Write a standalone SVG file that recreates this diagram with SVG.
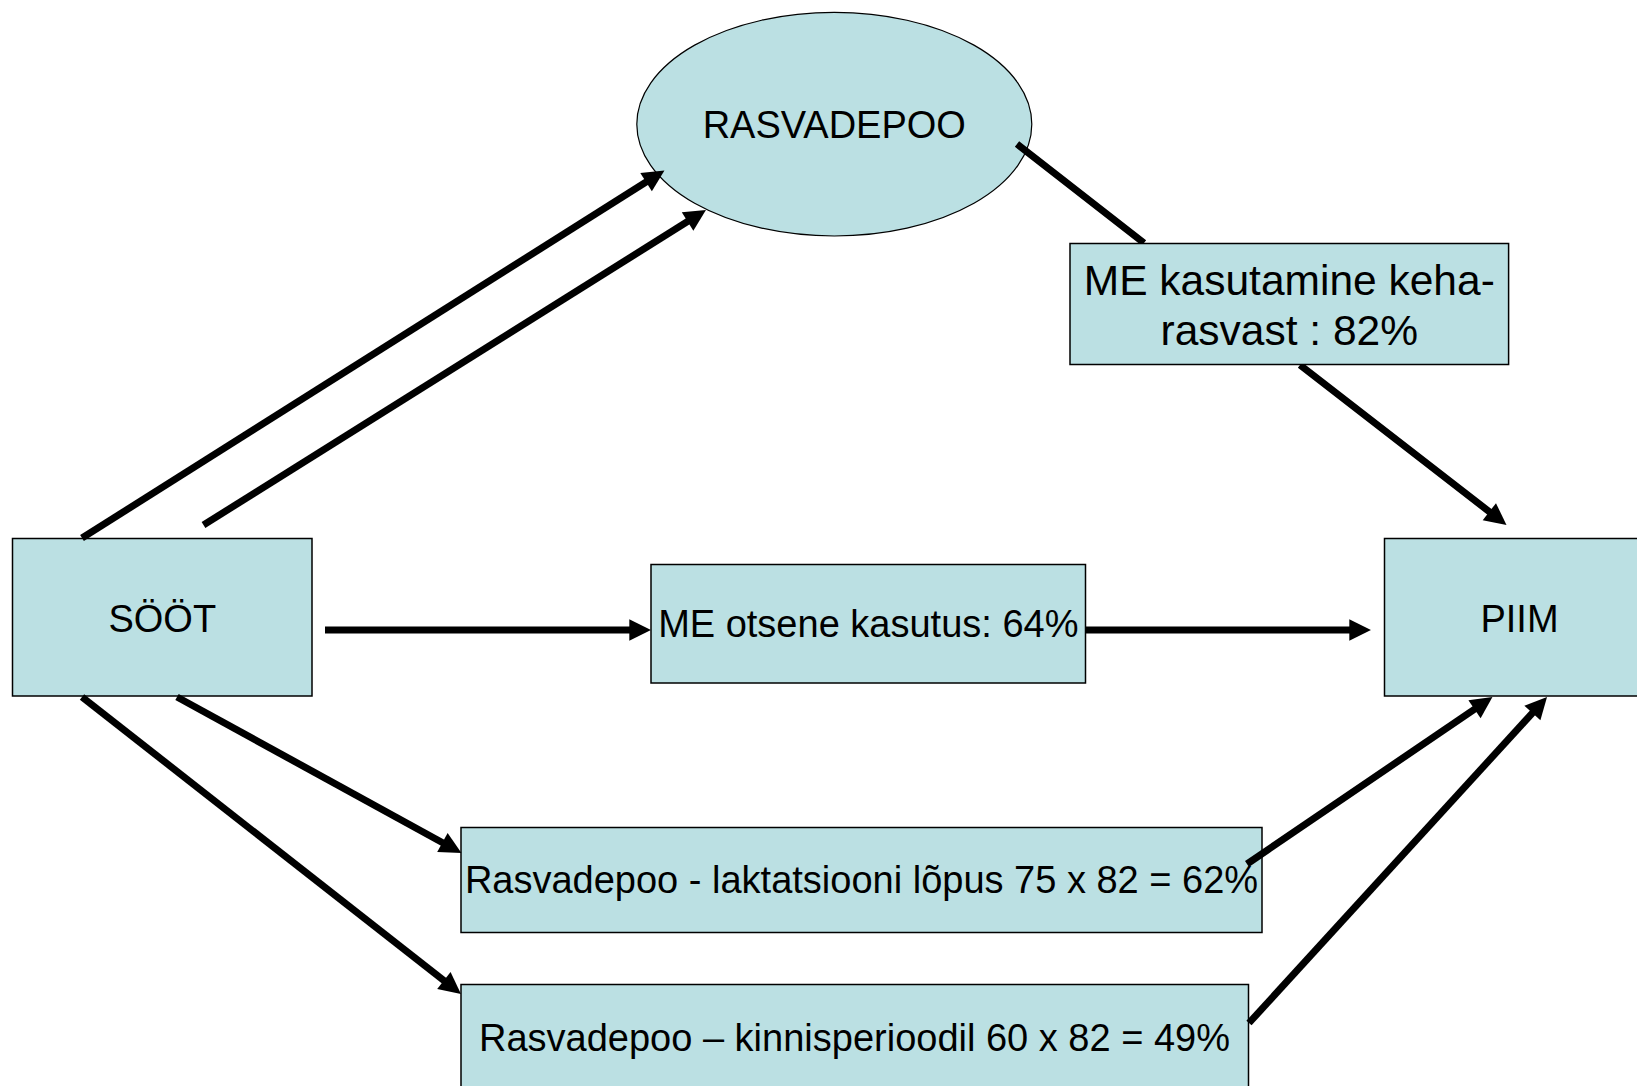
<svg xmlns="http://www.w3.org/2000/svg" width="1637" height="1086" viewBox="0 0 1637 1086">
<style>
.node{fill:#BBE0E3;stroke:#000;stroke-width:1.5}
.ell{fill:#BBE0E3;stroke:#000;stroke-width:1.2}
.t{font-family:"Liberation Sans",Arial,sans-serif;font-size:38px;fill:#000;text-anchor:middle}
.t2{font-size:42.5px}
.c{fill:none;stroke:#000;stroke-width:7;stroke-linecap:butt;marker-end:url(#ah)}
</style>
<defs>
<marker id="ah" markerUnits="strokeWidth" markerWidth="3.1" markerHeight="3.1" viewBox="0 0 10 10" refX="5.4" refY="5" orient="auto" overflow="visible">
<path d="M0,0 L10,5 L0,10 z" fill="#000"/>
</marker>
</defs>
<rect width="1637" height="1086" fill="#fff"/>
<g id="rasvadepoo">
<ellipse class="ell" cx="834.3" cy="124.2" rx="197.5" ry="111.8"/>
<text class="t" x="834.3" y="138.3">RASVADEPOO</text>
</g>
<g id="connectors-under">
<path class="c" d="M1017,144 L1144,243 M1300,365 L1498.6,518.9"/>
</g>
<g id="sööt">
<rect class="node" x="12.5" y="538.5" width="299.5" height="157.5"/>
<text class="t" x="162.3" y="631.7">SÖÖT</text>
</g>
<g id="piim">
<rect class="node" x="1384.5" y="538.5" width="270" height="157.5"/>
<text class="t" x="1519.5" y="631.7">PIIM</text>
</g>
<g id="me-otsene">
<rect class="node" x="651" y="564.5" width="434.5" height="118.5"/>
<text class="t" x="868.3" y="637.3">ME otsene kasutus: 64%</text>
</g>
<g id="me-kasutamine">
<rect class="node" x="1070" y="243.5" width="438.6" height="121"/>
<text class="t t2" x="1289.3" y="295">ME kasutamine keha-</text>
<text class="t t2" x="1289.3" y="345">rasvast : 82%</text>
</g>
<g id="rasvadepoo-laktatsioon">
<rect class="node" x="461" y="827.5" width="801" height="105"/>
<text class="t" x="861.5" y="893.3">Rasvadepoo - laktatsiooni lõpus 75 x 82 = 62%</text>
</g>
<g id="rasvadepoo-kinnisperiood">
<rect class="node" x="461" y="984.5" width="787.5" height="120"/>
<text class="t" x="854.5" y="1050.7">Rasvadepoo – kinnisperioodil 60 x 82 = 49%</text>
</g>
<g id="connectors">
<line class="c" x1="82" y1="538" x2="656" y2="175.8"/>
<line class="c" x1="203.5" y1="525" x2="697.5" y2="215.3"/>
<line class="c" x1="325" y1="630" x2="641" y2="630"/>
<line class="c" x1="1086" y1="630" x2="1361" y2="630"/>
<line class="c" x1="177" y1="697" x2="452.7" y2="848.2"/>
<line class="c" x1="82" y1="697" x2="453.1" y2="987.8"/>
<line class="c" x1="1247" y1="864" x2="1484.2" y2="702.6"/>
<line class="c" x1="1249" y1="1023" x2="1540.3" y2="704.4"/>
</g>
</svg>
